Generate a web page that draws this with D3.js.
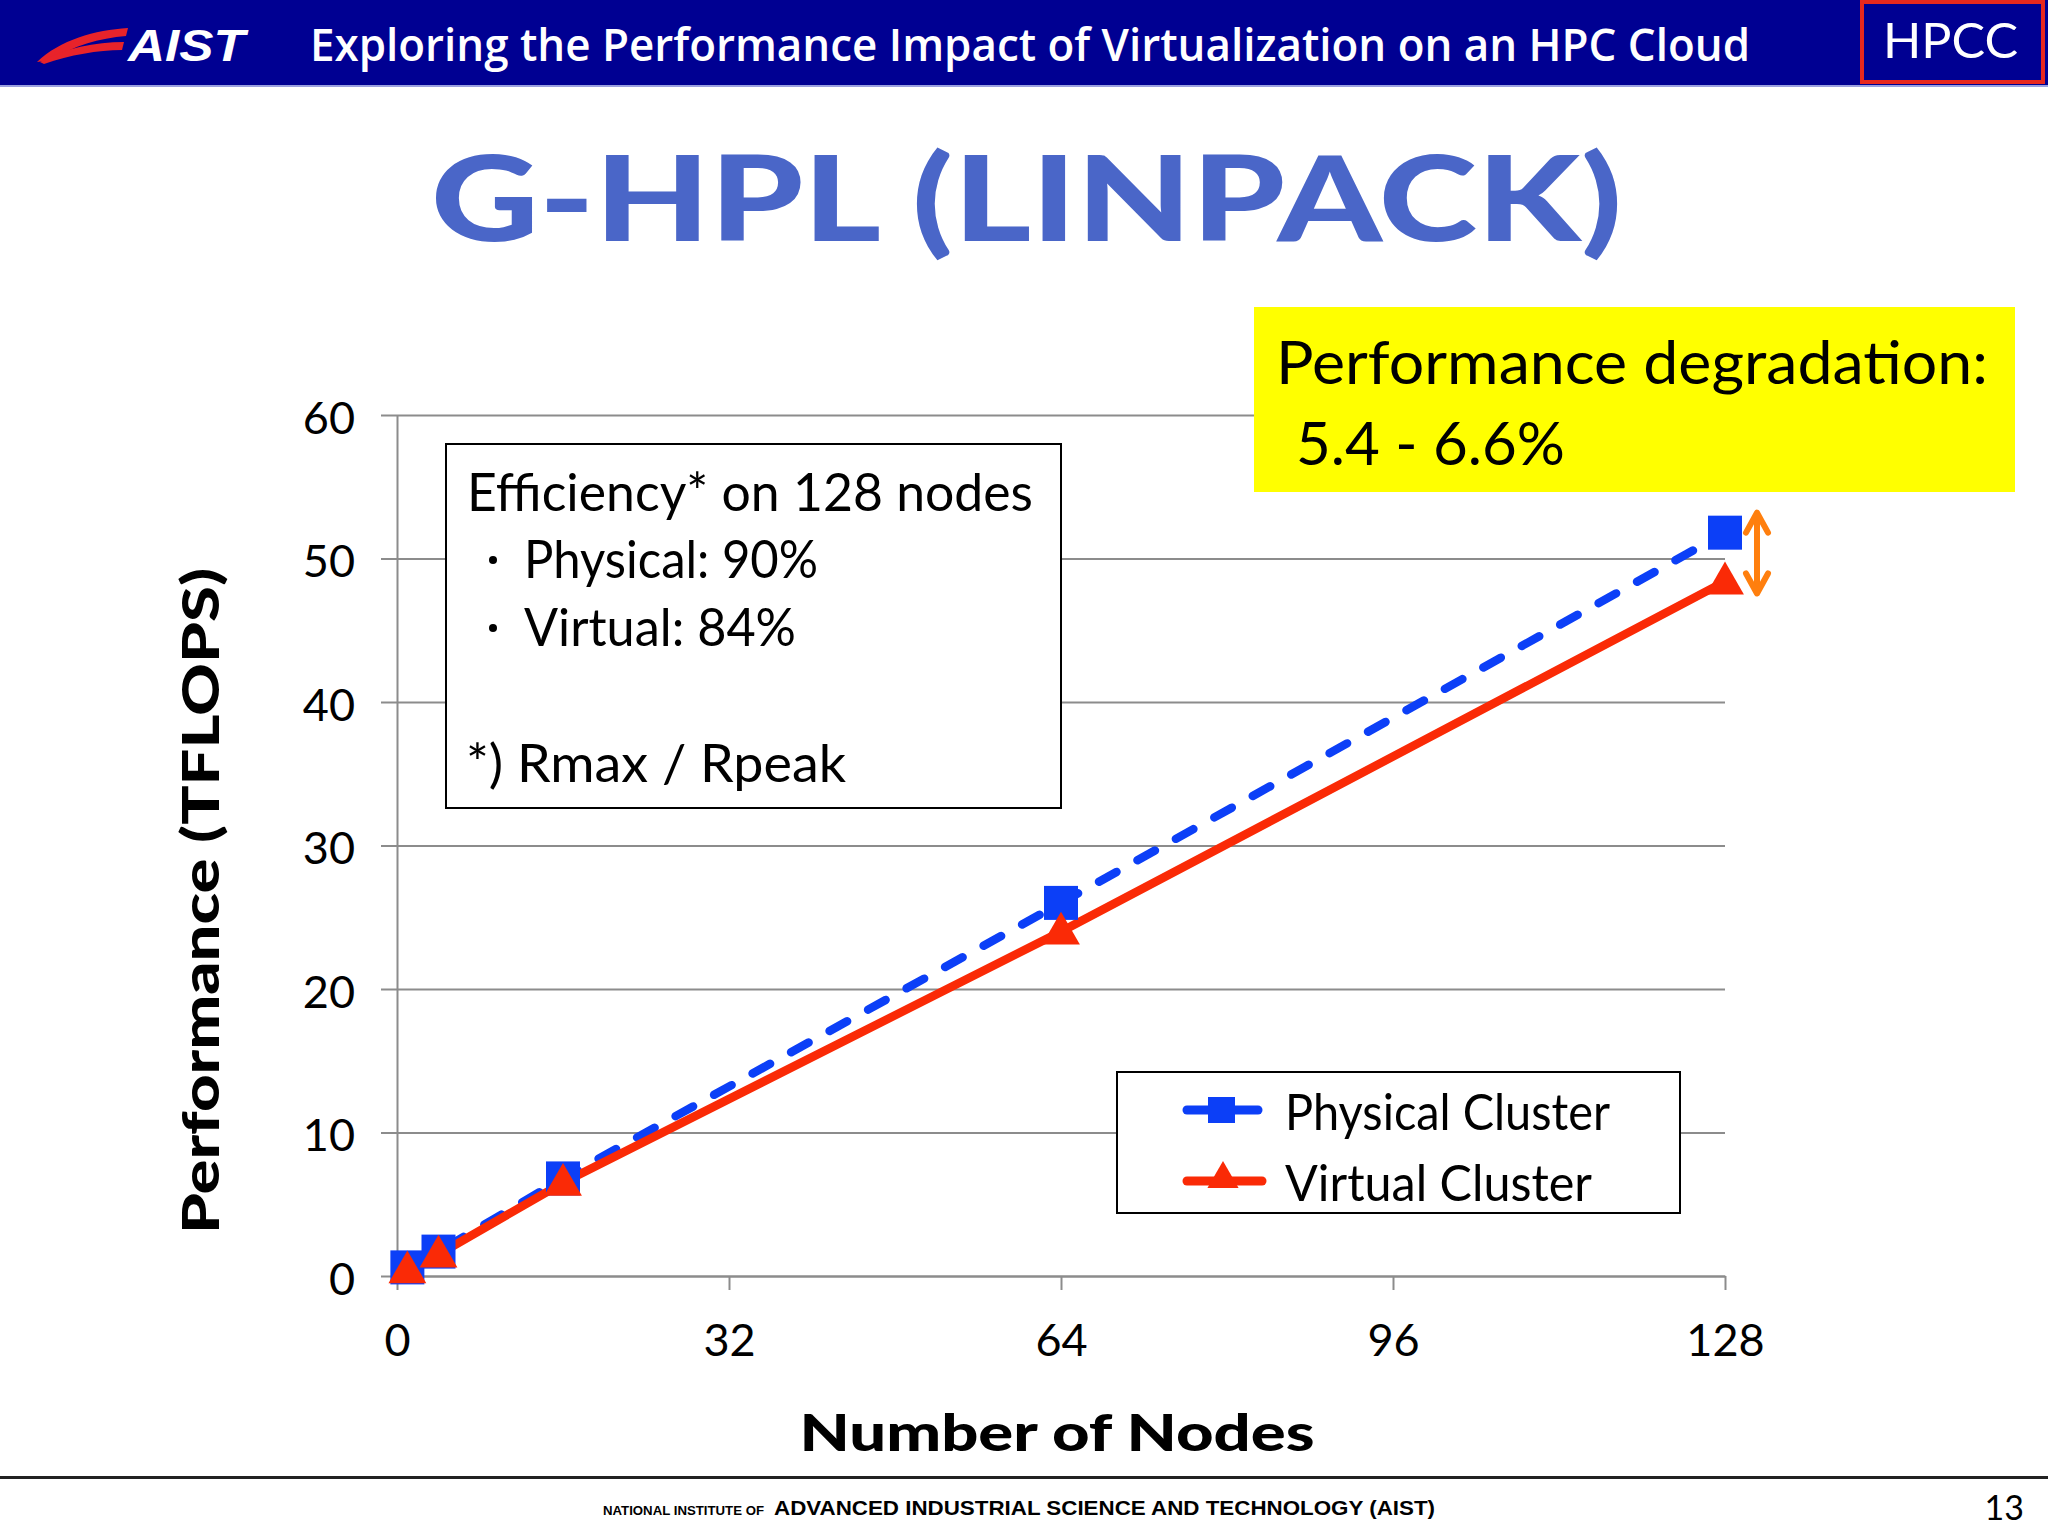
<!DOCTYPE html>
<html><head><meta charset="utf-8">
<script src="https://cdn.jsdelivr.net/npm/d3@7"></script>
<style>html,body{margin:0;padding:0;background:#fff;}svg{display:block;}</style>
</head><body>
<script>
const nodes = [1, 4, 16, 64, 128];
const physical = [0.6, 1.7, 6.8, 26.0, 51.8];
const virtual = [0.4, 1.5, 6.5, 24.0, 48.4];
const xTicks = [0, 32, 64, 96, 128];
const yTicks = [0, 10, 20, 30, 40, 50, 60];
const seriesNames = ["Physical Cluster", "Virtual Cluster"];

const W = 2048, H = 1536;
const svg = d3.select("body").append("svg").attr("width", W).attr("height", H);
svg.append("rect").attr("width", W).attr("height", H).attr("fill", "#fff");

// Header
svg.append("rect").attr("x", 0).attr("y", 0).attr("width", W).attr("height", 85).attr("fill", "#000092");
svg.append("rect").attr("x", 0).attr("y", 85).attr("width", W).attr("height", 2).attr("fill", "#9aa0e0");
svg.append("path").attr("d", "M37,62 C60,40 95,30 128,28 L126,36 C100,38 72,46 52,60 Z").attr("fill", "#e8232a");
svg.append("path").attr("d", "M40,62 C65,48 95,42 124,42 L122,50 C98,50 70,55 44,64 Z").attr("fill", "#e8232a");
svg.append("text").attr("x", 128).attr("y", 61).attr("fill", "#fff")
  .attr("font-family", "Liberation Sans, Arial").attr("font-weight", "bold").attr("font-style", "italic")
  .attr("font-size", 44).attr("textLength", 117).attr("lengthAdjust", "spacingAndGlyphs").text("AIST");
svg.append("text").attr("x", 310).attr("y", 61).attr("fill", "#fff")
  .attr("font-family", "Open Sans").attr("font-weight", "600")
  .attr("font-size", 46).attr("textLength", 1440).attr("lengthAdjust", "spacingAndGlyphs")
  .text("Exploring the Performance Impact of Virtualization on an HPC Cloud");
svg.append("rect").attr("x", 1862).attr("y", 2).attr("width", 181).attr("height", 80)
  .attr("fill", "none").attr("stroke", "#e8281e").attr("stroke-width", 4);
svg.append("text").attr("x", 1883).attr("y", 58).attr("fill", "#fff")
  .attr("font-family", "Lato").attr("font-size", 48).attr("textLength", 135).attr("lengthAdjust", "spacingAndGlyphs").text("HPCC");

// Main title
svg.append("text").attr("x", 431).attr("y", 241).attr("fill", "#4a66c8")
  .attr("font-family", "Lato").attr("font-weight", 900).attr("font-size", 118)
  .attr("textLength", 1191).attr("lengthAdjust", "spacingAndGlyphs").text("G-HPL (LINPACK)");

// Scales
const x = d3.scaleLinear().domain([0, 128]).range([397, 1725]);
const y = d3.scaleLinear().domain([0, 60]).range([1276, 415]);
const font = "Lato";

// Y axis with gridlines
const gy = svg.append("g").attr("transform", `translate(${x(0)},0)`)
  .call(d3.axisLeft(y).tickValues(yTicks).tickSize(16).tickSizeOuter(0).tickPadding(26));
gy.select(".domain").attr("stroke", "#8c8c8c").attr("stroke-width", 2);
gy.selectAll(".tick line").attr("stroke", "#8c8c8c").attr("stroke-width", 2)
  .attr("x1", -16).attr("x2", x(128) - x(0));
gy.selectAll(".tick text").attr("font-family", font).attr("font-size", 45).attr("fill", "#000")
  .attr("dy", "0.4em");

// X axis
const gx = svg.append("g").attr("transform", `translate(0,${y(0)})`)
  .call(d3.axisBottom(x).tickValues(xTicks).tickSize(14).tickSizeOuter(0).tickPadding(34));
gx.select(".domain").attr("stroke", "#8c8c8c").attr("stroke-width", 2);
gx.selectAll(".tick line").attr("stroke", "#8c8c8c").attr("stroke-width", 2);
gx.selectAll(".tick text").attr("font-family", font).attr("font-size", 45).attr("fill", "#000");

// Axis titles
svg.append("text").attr("transform", `translate(219,901) rotate(-90)`).attr("text-anchor", "middle")
  .attr("font-family", "Lato").attr("font-weight", 900).attr("font-size", 52)
  .attr("textLength", 666).attr("lengthAdjust", "spacingAndGlyphs").text("Performance (TFLOPS)");
svg.append("text").attr("x", 1057).attr("y", 1451).attr("text-anchor", "middle")
  .attr("font-family", "Lato").attr("font-weight", 900).attr("font-size", 52)
  .attr("textLength", 515).attr("lengthAdjust", "spacingAndGlyphs").text("Number of Nodes");

// Lines
const blue = "#0c3ff7", red = "#fa2a06";
const line = d3.line().x((d, i) => x(nodes[i])).y(d => y(d));
svg.append("path").datum(physical).attr("d", line).attr("fill", "none").attr("stroke", blue)
  .attr("stroke-width", 8.5).attr("stroke-dasharray", "20 24").attr("stroke-linecap", "round");
svg.append("path").datum(virtual).attr("d", line).attr("fill", "none").attr("stroke", red)
  .attr("stroke-width", 8.5);
const sq = 34;
svg.selectAll("rect.ph").data(physical).enter().append("rect").attr("class", "ph")
  .attr("x", (d, i) => x(nodes[i]) - sq / 2).attr("y", d => y(d) - sq / 2)
  .attr("width", sq).attr("height", sq).attr("fill", blue);
const tri = d3.symbol().type(d3.symbolTriangle).size(620);
svg.selectAll("path.vt").data(virtual).enter().append("path").attr("class", "vt")
  .attr("d", tri).attr("transform", (d, i) => `translate(${x(nodes[i])},${y(d) + 2})`).attr("fill", red);

// Orange double arrow
const ax = 1757, ay1 = y(physical[4]) - 20, ay2 = y(virtual[4]) + 12;
const og = svg.append("g").attr("stroke", "#ff7f0e").attr("stroke-width", 6).attr("fill", "none").attr("stroke-linecap", "round").attr("stroke-linejoin", "round");
og.append("line").attr("x1", ax).attr("x2", ax).attr("y1", ay1 + 2).attr("y2", ay2 - 2);
og.append("polyline").attr("points", `${ax - 11},${ay1 + 20} ${ax},${ay1} ${ax + 11},${ay1 + 20}`);
og.append("polyline").attr("points", `${ax - 11},${ay2 - 20} ${ax},${ay2} ${ax + 11},${ay2 - 20}`);

// Efficiency box
svg.append("rect").attr("x", 446).attr("y", 444).attr("width", 615).attr("height", 364)
  .attr("fill", "#fff").attr("stroke", "#000").attr("stroke-width", 2);
const eff = svg.append("g").attr("font-family", "Lato").attr("font-size", 52).attr("fill", "#000");
eff.append("text").attr("x", 467).attr("y", 511).attr("textLength", 566).attr("lengthAdjust", "spacingAndGlyphs").text("Efficiency* on 128 nodes");
eff.append("circle").attr("cx", 493).attr("cy", 560).attr("r", 4).attr("fill", "#000");
eff.append("text").attr("x", 524).attr("y", 578).attr("textLength", 294).attr("lengthAdjust", "spacingAndGlyphs").text("Physical: 90%");
eff.append("circle").attr("cx", 493).attr("cy", 628).attr("r", 4).attr("fill", "#000");
eff.append("text").attr("x", 524).attr("y", 646).attr("textLength", 272).attr("lengthAdjust", "spacingAndGlyphs").text("Virtual: 84%");
eff.append("text").attr("x", 466).attr("y", 782).attr("textLength", 380).attr("lengthAdjust", "spacingAndGlyphs").text("*) Rmax / Rpeak");

// Yellow box
svg.append("rect").attr("x", 1254).attr("y", 307).attr("width", 761).attr("height", 185).attr("fill", "#ffff00");
svg.append("text").attr("x", 1276).attr("y", 384).attr("font-family", "Lato").attr("font-size", 60)
  .attr("textLength", 712).attr("lengthAdjust", "spacingAndGlyphs").text("Performance degradation:");
svg.append("text").attr("x", 1296).attr("y", 465).attr("font-family", "Lato").attr("font-size", 60)
  .attr("textLength", 269).attr("lengthAdjust", "spacingAndGlyphs").text("5.4 - 6.6%");

// Legend
svg.append("rect").attr("x", 1117).attr("y", 1072).attr("width", 563).attr("height", 141)
  .attr("fill", "#fff").attr("stroke", "#000").attr("stroke-width", 2);
const lg = svg.append("g");
const legY = [1110, 1181];
lg.append("line").attr("x1", 1187).attr("x2", 1258).attr("y1", legY[0]).attr("y2", legY[0])
  .attr("stroke", blue).attr("stroke-width", 9).attr("stroke-linecap", "round");
lg.append("rect").attr("x", 1208).attr("y", legY[0] - 13).attr("width", 27).attr("height", 26).attr("fill", blue);
lg.append("line").attr("x1", 1187).attr("x2", 1262).attr("y1", legY[1]).attr("y2", legY[1])
  .attr("stroke", red).attr("stroke-width", 9).attr("stroke-linecap", "round");
lg.append("path").attr("d", d3.symbol().type(d3.symbolTriangle).size(420))
  .attr("transform", `translate(1223,${legY[1] - 2})`).attr("fill", red);
lg.selectAll("text").data(seriesNames).enter().append("text")
  .attr("x", 1285).attr("y", (d, i) => legY[i] + 20)
  .attr("font-family", "Lato").attr("font-size", 50).attr("fill", "#000")
  .attr("textLength", (d, i) => i === 0 ? 325 : 307).attr("lengthAdjust", "spacingAndGlyphs").text(d => d);

// Footer
svg.append("rect").attr("x", 0).attr("y", 1476).attr("width", W).attr("height", 3).attr("fill", "#222");
svg.append("text").attr("x", 603).attr("y", 1515).attr("font-family", "Liberation Sans, Arial").attr("font-weight", "bold")
  .attr("font-size", 12).attr("textLength", 161).attr("lengthAdjust", "spacingAndGlyphs").text("NATIONAL INSTITUTE OF");
svg.append("text").attr("x", 774).attr("y", 1515).attr("font-family", "Liberation Sans, Arial").attr("font-weight", "bold")
  .attr("font-size", 21).attr("textLength", 661).attr("lengthAdjust", "spacingAndGlyphs").text("ADVANCED INDUSTRIAL SCIENCE AND TECHNOLOGY (AIST)");
svg.append("text").attr("x", 2024).attr("y", 1520).attr("text-anchor", "end").attr("font-family", "Lato")
  .attr("font-size", 34).text("13");
</script>
</body></html>
